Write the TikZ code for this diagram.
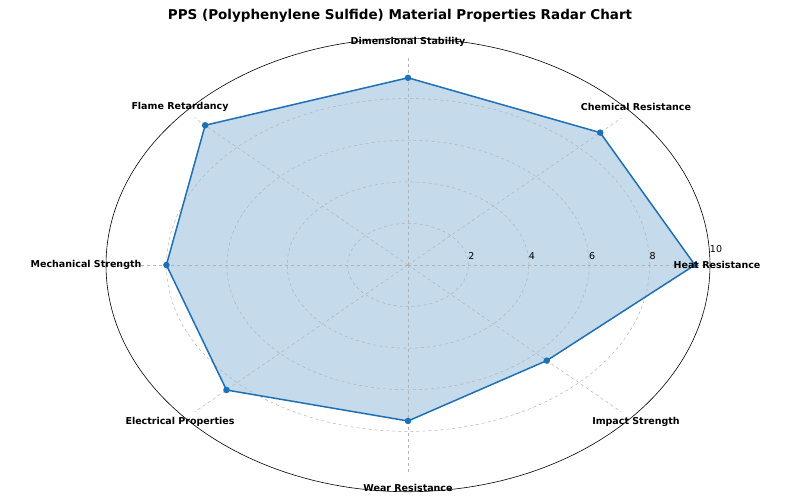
\documentclass[tikz,border=0pt]{standalone}
\usepackage{fontspec}
\setmainfont{DejaVu Sans}
\usetikzlibrary{calc}
\definecolor{mplblue}{HTML}{1F6FB4}
\definecolor{mplfill}{HTML}{C5DAEA}
\begin{document}
\begin{tikzpicture}[x=1pt,y=1pt,
  grid/.style={gray!60,dashed,line width=0.5pt},
  lab/.style={font=\bfseries\fontsize{9.5}{11}\selectfont},
  tick/.style={font=\fontsize{9.5}{11}\selectfont},
  pt/.style={circle,inner sep=2.3pt}]
\useasboundingbox (0,0) rectangle (800,500);
\def\rx{30.2}\def\ry{20.8}
\coordinate (c) at (408,235);
\fill[mplfill] (0,0) rectangle (0,0);
\def\vals{9.5,9,9,9.5,8,8.5,7.5,6.5}
\foreach \v [count=\i] in \vals{
  \pgfmathsetmacro\a{(\i-1)*45}
  \coordinate (p\i) at ($(c)+({\v*\rx*cos(\a)},{\v*\ry*sin(\a)})$);
}
\fill[mplfill] (p1)--(p2)--(p3)--(p4)--(p5)--(p6)--(p7)--(p8)--cycle;
\foreach \v in {2,4,6,8}{
  \draw[grid] (c) ellipse ({\v*\rx} and {\v*\ry});
  \node[tick,anchor=south] (t\v) at ({408+\v*\rx+3},237) {\v};
}
\node[tick,anchor=south] (t10) at (716,244) {10};
\foreach \a in {0,45,...,315}{
  \draw[grid] (c) -- ++({10*\rx*cos(\a)},{10*\ry*sin(\a)});
}
\draw[black,line width=0.6pt] (c) ellipse ({10*\rx} and {10.9*\ry});
\draw[mplblue,line width=1.5pt] (p1)--(p2)--(p3)--(p4)--(p5)--(p6)--(p7)--(p8)--cycle;
\foreach \i in {1,...,8}{\node[pt,fill=mplblue] (m\i) at (p\i) {};}
\node[lab] (l1) at (717,235) {Heat Resistance};
\node[lab] (l2) at (636,393) {Chemical Resistance};
\node[lab] (l3) at (408,458) {Dimensional Stability};
\node[lab] (l4) at (180,393) {Flame Retardancy};
\node[lab] (l5) at (86,235) {Mechanical Strength};
\node[lab] (l6) at (180,78) {Electrical Properties};
\node[lab] (l7) at (408,12) {Wear Resistance};
\node[lab] (l8) at (636,78) {Impact Strength};
\node[font=\bfseries\fontsize{13.5}{15}\selectfont] (title) at (400,484) {PPS (Polyphenylene Sulfide) Material Properties Radar Chart};
\end{tikzpicture}
\end{document}
